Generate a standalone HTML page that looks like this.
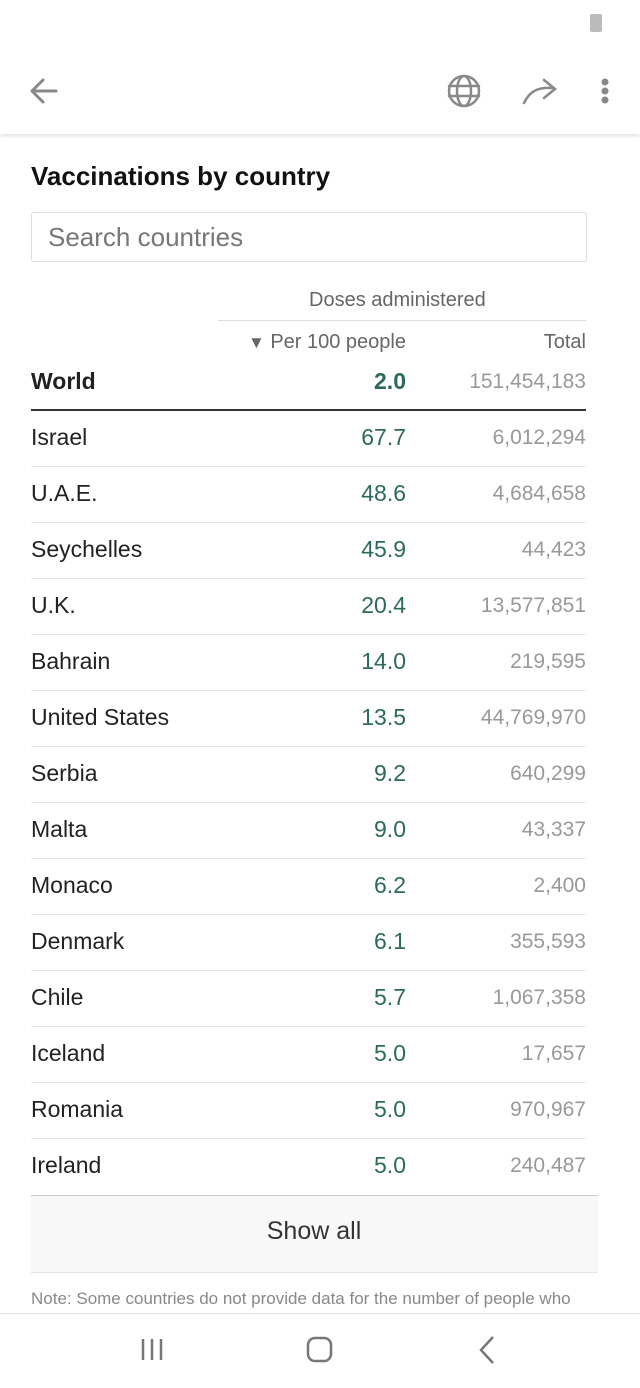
<!DOCTYPE html>
<html><head><style>
body{margin:0;width:640px;height:1387px;background:#fff;font-family:"Liberation Sans",sans-serif;position:relative;overflow:hidden;}
.a{position:absolute;white-space:nowrap;}
.r{text-align:right;}
.row{position:absolute;left:31px;width:555px;height:56px;border-bottom:1px solid #e6e6e6;}
.row .n{position:absolute;left:0;top:14px;font-size:23px;color:#222;}
.row .p{position:absolute;right:180px;top:14px;font-size:23px;color:#2b6a5c;}
.row .t{position:absolute;right:0;top:16px;font-size:21px;color:#999;}
</style></head><body>
<div class="a" style="left:590px;top:14px;width:12px;height:18px;background:#bbb;border-radius:2px;"></div>
<div class="a" style="left:0;top:0;width:640px;height:134px;box-shadow:0 2px 4px rgba(0,0,0,0.12);"></div>
<svg class="a" style="left:0;top:60px" width="640" height="64">
<g fill="none" stroke="#888" stroke-width="3" stroke-linecap="round">
<path d="M32 31 H56 M32 31 L43 20 M32 31 L43 42"/>
<circle cx="464" cy="31" r="15" stroke-width="2.5"/><ellipse cx="464" cy="31" rx="7" ry="15" stroke-width="2.5"/><path d="M449 26H479M449 36H479" stroke-width="2.5"/>
<path d="M524 43 C530 30 540 27 552 28 M544 20 L555 29 L544 38" stroke-width="2.5"/>
</g>
<g fill="#888"><circle cx="605" cy="22" r="3.5"/><circle cx="605" cy="31" r="3.5"/><circle cx="605" cy="40" r="3.5"/></g>
</svg>
<div class="a" style="left:31px;top:161px;font-size:26px;font-weight:bold;color:#111;">Vaccinations by country</div>
<div class="a" style="left:31px;top:212px;width:554px;height:48px;border:1px solid #ddd;border-radius:3px;"></div>
<div class="a" style="left:48px;top:222px;font-size:26px;color:#777;">Search countries</div>
<div class="a" style="left:309px;top:289px;font-size:20px;color:#666;">Doses administered</div>
<div class="a" style="left:218px;top:320px;width:368px;height:1px;background:#ddd;"></div>
<div class="a r" style="right:234px;top:331px;font-size:20px;color:#666;"><span style="font-size:17px">▼</span> Per 100 people</div>
<div class="a r" style="right:54px;top:331px;font-size:20px;color:#666;">Total</div>
<div class="a" style="left:31px;top:368px;font-size:23px;font-weight:bold;color:#222;">World</div>
<div class="a r" style="right:234px;top:368px;font-size:23px;font-weight:bold;color:#2b6a5c;">2.0</div>
<div class="a r" style="right:54px;top:370px;font-size:21px;color:#999;">151,454,183</div>
<div class="a" style="left:31px;top:409px;width:555px;height:2px;background:#333;"></div>
<div class="row" style="top:410px"><span class="n">Israel</span><span class="p">67.7</span><span class="t">6,012,294</span></div>
<div class="row" style="top:466px"><span class="n">U.A.E.</span><span class="p">48.6</span><span class="t">4,684,658</span></div>
<div class="row" style="top:522px"><span class="n">Seychelles</span><span class="p">45.9</span><span class="t">44,423</span></div>
<div class="row" style="top:578px"><span class="n">U.K.</span><span class="p">20.4</span><span class="t">13,577,851</span></div>
<div class="row" style="top:634px"><span class="n">Bahrain</span><span class="p">14.0</span><span class="t">219,595</span></div>
<div class="row" style="top:690px"><span class="n">United States</span><span class="p">13.5</span><span class="t">44,769,970</span></div>
<div class="row" style="top:746px"><span class="n">Serbia</span><span class="p">9.2</span><span class="t">640,299</span></div>
<div class="row" style="top:802px"><span class="n">Malta</span><span class="p">9.0</span><span class="t">43,337</span></div>
<div class="row" style="top:858px"><span class="n">Monaco</span><span class="p">6.2</span><span class="t">2,400</span></div>
<div class="row" style="top:914px"><span class="n">Denmark</span><span class="p">6.1</span><span class="t">355,593</span></div>
<div class="row" style="top:970px"><span class="n">Chile</span><span class="p">5.7</span><span class="t">1,067,358</span></div>
<div class="row" style="top:1026px"><span class="n">Iceland</span><span class="p">5.0</span><span class="t">17,657</span></div>
<div class="row" style="top:1082px"><span class="n">Romania</span><span class="p">5.0</span><span class="t">970,967</span></div>
<div class="row" style="top:1138px;border-bottom:none"><span class="n">Ireland</span><span class="p">5.0</span><span class="t">240,487</span></div>
<div class="a" style="left:31px;top:1195px;width:567px;height:76px;background:#f8f8f8;border-top:1px solid #ccc;border-bottom:1px solid #e4e4e4;"></div>
<div class="a" style="left:0;width:628px;top:1217px;text-align:center;font-size:25px;color:#333;">Show all</div>
<div class="a" style="left:31px;top:1289px;font-size:17px;color:#888;">Note: Some countries do not provide data for the number of people who</div>
<div class="a" style="left:0;top:1313px;width:640px;height:74px;background:#fff;border-top:1px solid #ddd;"></div>
<svg class="a" style="left:0;top:1330px" width="640" height="40">
<g fill="none" stroke="#777" stroke-width="2.5">
<path d="M143 9V30M152 9V30M161 9V30"/>
<rect x="308" y="8" width="23" height="23" rx="7"/>
<path d="M493 7L481 20L493 33"/>
</g></svg>
</body></html>
